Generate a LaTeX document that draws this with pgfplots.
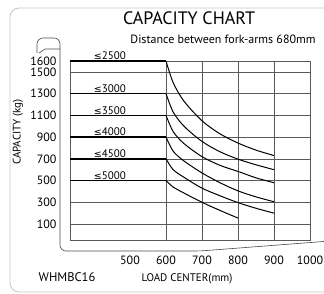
\documentclass[border=0pt]{standalone}
\usepackage{pgfplots}
\pgfplotsset{compat=1.18}
\usepackage{fontspec}
\setmainfont{PT Sans}
\newfontfamily\dejavu{DejaVu Sans}
\newcommand{\lesym}{{\dejavu\fontsize{9.5}{11}\selectfont ≤}}
\begin{document}
\begin{tikzpicture}[x=1pt,y=1pt]
\useasboundingbox (0,0) rectangle (324,-293);
\clip (0,0) rectangle (324,-293);
% outer frame
\draw[gray!45, line width=0.8pt, rounded corners=9pt] (10,-8) rectangle (345,-292);
% tab and second frame
\draw[gray!60!black, line width=0.6pt, rounded corners=6pt] (37,-53) -- (37,-38) -- (60,-38) -- (60,-251) -- (200,-251) -- (330,-241);
\draw[gray!60!black, line width=0.6pt] (39,-53) -- (45,-49) -- (60,-49);
\begin{axis}[
  at={(70pt,-240pt)}, anchor=south west,
  scale only axis, width=240pt, height=179pt,
  xmin=333.3, xmax=1000, ymin=-47, ymax=1600,
  clip=false,
  xtick={600,700,800,900,1000},
  extra x ticks={500},
  extra x tick style={grid=none},
  ytick={100,300,500,700,900,1100,1300,1500,1600},
  xmajorgrids, ymajorgrids,
  major grid style={gray!70!black, line width=0.6pt},
  axis line style={gray!70!black, line width=0.7pt},
  major tick length=0pt,
  /pgf/number format/assume math mode=true,
  /pgf/number format/1000 sep={},
  tick label style={font=\fontsize{12}{14}\selectfont},
  xticklabel style={yshift=-12pt},
  yticklabel style={xshift=-10pt},
]
% horizontal capacity lines
\addplot[black, line width=1.4pt] coordinates {(333.3,1600) (600,1600)};
\addplot[black, line width=1.4pt] coordinates {(333.3,1300) (600,1300)};
\addplot[black, line width=1.4pt] coordinates {(333.3,1100) (600,1100)};
\addplot[black, line width=1.4pt] coordinates {(333.3,900) (600,900)};
\addplot[black, line width=1.4pt] coordinates {(333.3,700) (600,700)};
\addplot[black, line width=1.4pt] coordinates {(333.3,500) (600,500)};
% capacity curves
\addplot[black, line width=1pt, smooth] coordinates {(600,1600) (620,1400) (650,1230) (700,1050) (750,930) (800,845) (850,780) (900,730)};
\addplot[black, line width=1pt, smooth] coordinates {(600,1300) (620,1130) (650,1000) (700,860) (750,765) (800,697) (850,645) (900,600)};
\addplot[black, line width=1pt, smooth] coordinates {(600,1100) (620,950) (650,840) (700,720) (750,640) (800,584) (850,525) (900,480)};
\addplot[black, line width=1pt, smooth] coordinates {(600,900) (620,770) (650,680) (700,570) (750,480) (800,405) (850,350) (900,305)};
\addplot[black, line width=1pt, smooth] coordinates {(600,700) (620,600) (650,530) (700,430) (750,360) (800,297) (850,245) (900,200)};
\addplot[black, line width=1pt, smooth] coordinates {(600,500) (620,440) (650,385) (700,300) (750,225) (800,155)};
% labels above lines
\node[anchor=south, inner sep=1pt, font=\fontsize{11}{13}\selectfont] at (axis cs:444,1600) {\lesym2500};
\node[anchor=south, inner sep=1pt, font=\fontsize{11}{13}\selectfont] at (axis cs:444,1300) {\lesym3000};
\node[anchor=south, inner sep=1pt, font=\fontsize{11}{13}\selectfont] at (axis cs:444,1100) {\lesym3500};
\node[anchor=south, inner sep=1pt, font=\fontsize{11}{13}\selectfont] at (axis cs:444,900) {\lesym4000};
\node[anchor=south, inner sep=1pt, font=\fontsize{11}{13}\selectfont] at (axis cs:444,700) {\lesym4500};
\node[anchor=south, inner sep=1pt, font=\fontsize{11}{13}\selectfont] at (axis cs:444,500) {\lesym5000};
\end{axis}
\node[font=\fontsize{18}{20}\selectfont] at (189,-18) {CAPACITY CHART};
\node[font=\fontsize{12}{14}\selectfont] at (223,-39) {Distance between fork-arms 680mm};
\node[rotate=90, font=\fontsize{11}{13}\selectfont] at (18,-132) {CAPACITY (kg)};
\node[font=\fontsize{12.5}{14}\selectfont] at (67,-277) {WHMBC16};
\node[font=\fontsize{11}{13}\selectfont] at (187,-279) {LOAD CENTER(mm)};
\end{tikzpicture}
\end{document}
